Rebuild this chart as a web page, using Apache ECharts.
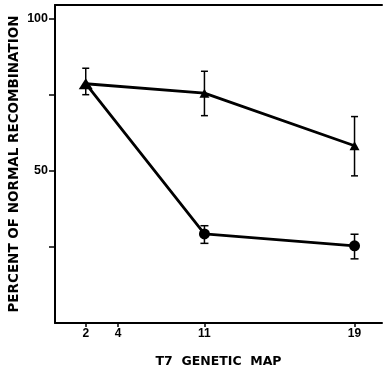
<!DOCTYPE html>
<html>
<head>
<meta charset="utf-8">
<style>html,body{margin:0;padding:0;background:#fff}#c{width:383px;height:370px}</style>
<script src="https://cdn.jsdelivr.net/npm/echarts@6/dist/echarts.min.js"></script>
</head>
<body>
<div id="c"></div>
<script>
// T7 genetic map loci and their positions along the map axis
const mapLabels = ['2', '4', '11', '19'];
const mapPos = [9.4, 19.3, 45.7, 91.6];
// Data loci
const pointLoci = ['2', '11', '19'];
// Triangle series
const triVals = [78.7, 75.6, 58.3];
const triLow = [75.1, 68.2, 48.4];
const triHigh = [83.8, 82.8, 67.9];
// Circle series
const cirVals = [78.7, 29.3, 25.4];
const cirLow = [78.7, 26.2, 21.1];
const cirHigh = [78.7, 32.0, 29.2];
// Y ticks
const yTicks = [25, 50, 75, 100];
const yLabels = [50, 100];

const posOf = l => mapPos[mapLabels.indexOf(l)];
const triData = pointLoci.map((l, i) => [posOf(l), triVals[i]]);
const cirData = pointLoci.map((l, i) => [posOf(l), cirVals[i]]);
const triErr = pointLoci.map((l, i) => [posOf(l), triLow[i], triHigh[i]]);
const cirErr = pointLoci.map((l, i) => [posOf(l), cirLow[i], cirHigh[i]]);

function errRender(capW) {
  return function (params, api) {
    const x = api.value(0);
    const lo = api.coord([x, api.value(1)]);
    const hi = api.coord([x, api.value(2)]);
    if (Math.abs(lo[1] - hi[1]) < 1) return null;
    const st = { stroke: '#000', lineWidth: 1.5 };
    return {
      type: 'group',
      children: [
        { type: 'line', shape: { x1: lo[0], y1: lo[1], x2: hi[0], y2: hi[1] }, style: st },
        { type: 'line', shape: { x1: lo[0] - capW, y1: lo[1], x2: lo[0] + capW, y2: lo[1] }, style: st },
        { type: 'line', shape: { x1: hi[0] - capW, y1: hi[1], x2: hi[0] + capW, y2: hi[1] }, style: st }
      ]
    };
  };
}

const chart = echarts.init(document.getElementById('c'));
chart.setOption({
  animation: false,
  backgroundColor: '#fff',
  grid: { left: 55, right: 1, top: 5, bottom: 47, containLabel: false, outerBoundsMode: 'none' },
  xAxis: [{
    type: 'value', min: 0, max: 100,
    splitLine: { show: false },
    axisLine: { show: true, lineStyle: { color: '#000', width: 2 } },
    axisTick: { show: true, customValues: mapPos, length: 4, lineStyle: { color: '#000', width: 1.5 } },
    axisLabel: {
      customValues: mapPos,
      formatter: v => { const i = mapPos.indexOf(v); return i >= 0 ? mapLabels[i] : ''; },
      color: '#000', fontFamily: 'Liberation Sans', fontWeight: 'bold', fontSize: 12, margin: 5
    },
    name: 'T7  GENETIC  MAP', nameLocation: 'middle', nameGap: 32, nameMoveOverlap: false,
    nameTextStyle: { color: '#000', fontFamily: 'DejaVu Sans', fontWeight: 'bold', fontSize: 12.5 }
  }, {
    type: 'value', min: 0, max: 100, position: 'top',
    splitLine: { show: false },
    axisLine: { show: true, lineStyle: { color: '#000', width: 2 } },
    axisTick: { show: false }, axisLabel: { show: false }
  }],
  yAxis: {
    type: 'value', min: 0, max: 104.6,
    splitLine: { show: false },
    axisLine: { show: true, lineStyle: { color: '#000', width: 2 } },
    axisTick: { show: true, customValues: yTicks, length: 6, lineStyle: { color: '#000', width: 1.5 } },
    axisLabel: {
      customValues: yLabels,
      color: '#000', fontFamily: 'Liberation Sans', fontWeight: 'bold', fontSize: 12.5, margin: 7
    },
    name: 'PERCENT OF NORMAL RECOMBINATION', nameLocation: 'middle', nameGap: 34, nameRotate: 90,
    nameMoveOverlap: false,
    nameTextStyle: { color: '#000', fontFamily: 'DejaVu Sans', fontWeight: 'bold', fontSize: 13.5 }
  },
  series: [
    {
      type: 'custom', renderItem: errRender(4), data: cirErr, z: 3,
      encode: { x: 0, y: [1, 2] }
    },
    {
      type: 'custom', renderItem: errRender(3.5), data: triErr, z: 3,
      encode: { x: 0, y: [1, 2] }
    },
    {
      type: 'line', data: cirData, z: 4,
      lineStyle: { color: '#000', width: 2.8 },
      itemStyle: { color: '#000' },
      symbol: (v, p) => p.dataIndex === 0 ? 'none' : 'circle',
      symbolSize: 11, showSymbol: true
    },
    {
      type: 'line', data: triData, z: 5,
      lineStyle: { color: '#000', width: 2.8 },
      itemStyle: { color: '#000' },
      symbol: 'triangle',
      symbolSize: (v, p) => p.dataIndex === 0 ? [14, 11] : [10, 9], showSymbol: true
    }
  ]
});
</script>
</body>
</html>
